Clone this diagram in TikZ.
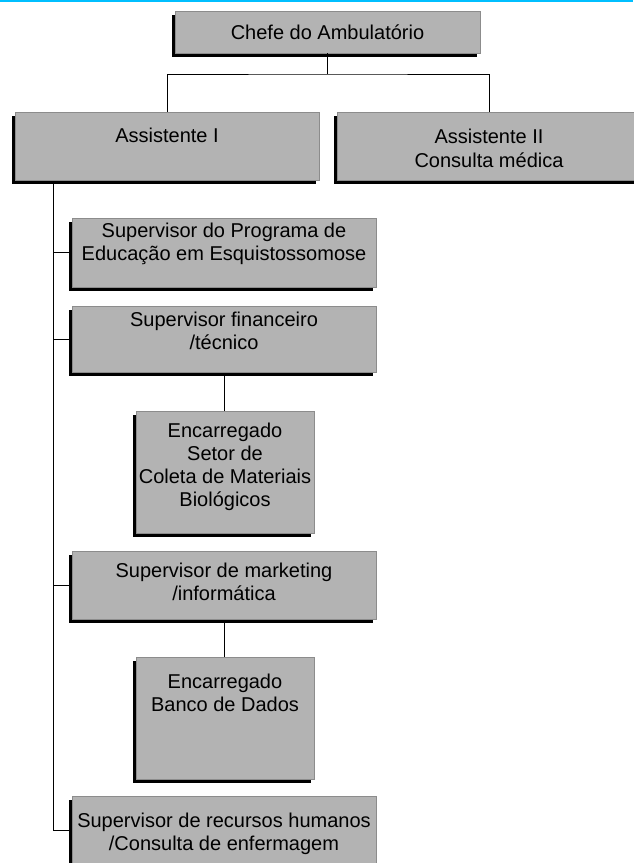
\documentclass[tikz,border=0pt]{standalone}
\usepackage{fontspec}
\setmainfont{Liberation Sans}
\usetikzlibrary{shadows}
\definecolor{boxfill}{HTML}{B3B3B3}
\definecolor{boxedge}{HTML}{8C8C8C}
\definecolor{topline}{RGB}{0,191,255}
\tikzset{
  orgbox/.style={draw=boxedge, line width=0.8pt, fill=boxfill, inner sep=0pt,
    drop shadow={shadow xshift=-3pt, shadow yshift=-3.5pt, opacity=1, fill=black}},
  txt/.style={anchor=north, inner sep=0pt, align=center,
    font=\fontsize{20}{23}\selectfont},
  link/.style={draw=black, line width=0.9pt}
}
\begin{document}
\begin{tikzpicture}[x=1pt, y=-1pt]
\useasboundingbox (0,0) rectangle (633,863);
\fill[topline] (0,0) rectangle (633,1.5);
\coordinate (t) at (53,0);
\coordinate (j) at (327.5,74);
% boxes
\node[orgbox, minimum width=305pt, minimum height=42pt] (c)  at (327.5,32) {};
\node[orgbox, minimum width=304pt, minimum height=68pt] (a1) at (167,146) {};
\node[orgbox, minimum width=304pt, minimum height=68pt] (a2) at (489,146) {};
\node[orgbox, minimum width=304pt, minimum height=69pt] (s1) at (224,252.5) {};
\node[orgbox, minimum width=304pt, minimum height=66pt] (s2) at (224,339) {};
\node[orgbox, minimum width=178pt, minimum height=122pt] (e1) at (225,472) {};
\node[orgbox, minimum width=304pt, minimum height=68pt] (s3) at (224,585) {};
\node[orgbox, minimum width=178pt, minimum height=122pt] (e2) at (225,718) {};
\node[orgbox, minimum width=304pt, minimum height=68pt] (s4) at (224,830) {};
% connectors
\draw[link] (c.south) -- (j);
\draw[link] (a1.north) |- (j) -| (a2.north);
\draw[link] (a1.south -| t) ++(0,3.5) |- (s4.west);
\draw[link] (t |- s1.west) -- ++(16,0);
\draw[link] (t |- s2.west) -- ++(16,0);
\draw[link] (t |- s3.west) -- ++(16,0);
\draw[link] (t |- s4.west) -- ++(16,0);
\draw[link] (s2.south) ++(0,3) -- (s2.south |- e1.north);
\draw[link] (s3.south) ++(0,3) -- (s3.south |- e2.north);
% texts
\node[txt] (ct)  at (327.5,22.9) {\strut Chefe do Ambulatório};
\node[txt] (a1t) at (167,125.9) {\strut Assistente I};
\node[txt, font=\fontsize{20}{24.5}\selectfont] (a2t) at (489,125.9) {\strut Assistente II\\\strut Consulta médica};
\node[txt] (s1t) at (224,220.9) {\strut Supervisor do Programa de\\\strut Educação em Esquistossomose};
\node[txt] (s2t) at (224,309.9) {\strut Supervisor financeiro\\\strut /técnico};
\node[txt] (e1t) at (225,420.9) {\strut Encarregado\\\strut Setor de\\\strut Coleta de Materiais\\\strut Biológicos};
\node[txt] (s3t) at (224,560.9) {\strut Supervisor de marketing\\\strut /informática};
\node[txt] (e2t) at (225,671.9) {\strut Encarregado\\\strut Banco de Dados};
\node[txt] (s4t) at (224,810.9) {\strut Supervisor de recursos humanos\\\strut /Consulta de enfermagem};
\end{tikzpicture}
\end{document}
